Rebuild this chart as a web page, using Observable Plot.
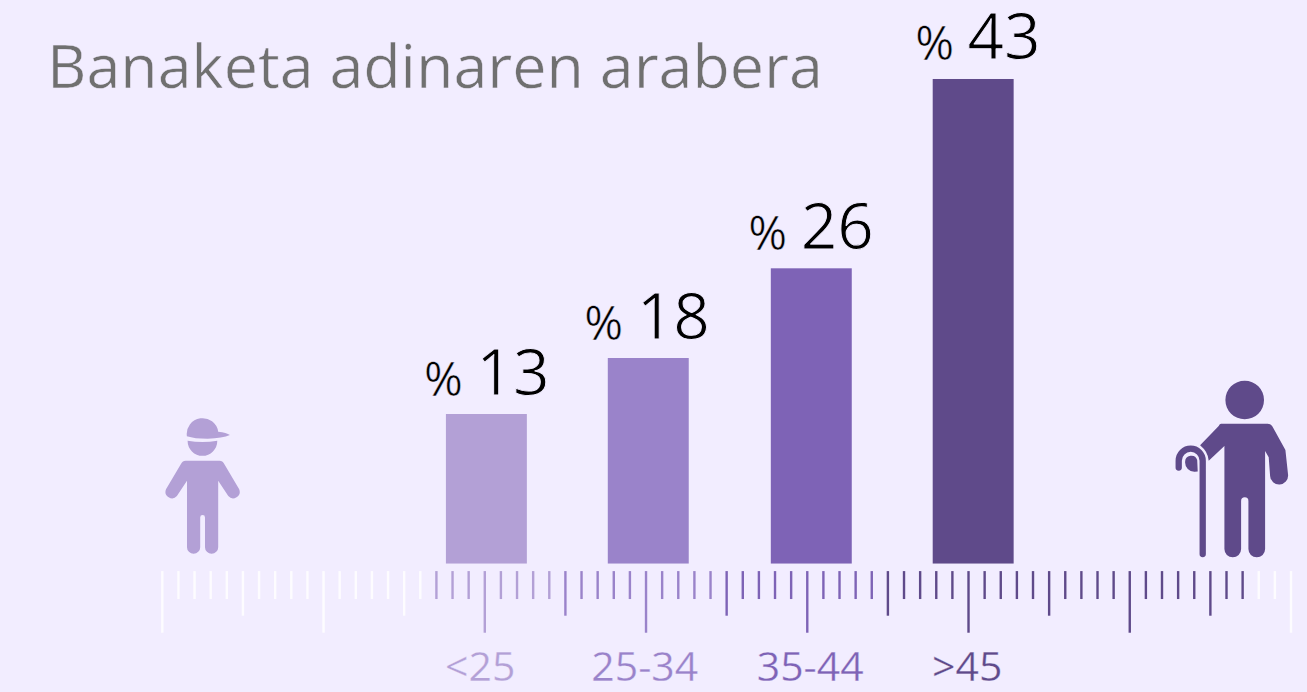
<!DOCTYPE html>
<html><head><meta charset="utf-8">
<script src="https://cdn.jsdelivr.net/npm/d3@7"></script>
<script src="https://cdn.jsdelivr.net/npm/@observablehq/plot@0.6"></script>
<style>
html,body{margin:0;padding:0;background:#f2edff;overflow:hidden}
svg{display:block}
</style></head><body><div id="chart"></div>
<script>
const chartTitle = "Banaketa adinaren arabera";
const categories = ["<25","25-34","35-44",">45"];
const shares = [13,18,26,43];
const barValues = [13.27,18.24,26.2,43];
const barCentres = [20.13,30.17,40.28,50.32];
const valueCentres = [20.11,30.05,40.22,50.57];
const categoryCentres = [19.72,29.92,40.18,49.92];
const colours = ["#b3a0d6","#9a83ca","#7e63b6","#5f4a8a"];
const tickValues = d3.range(0,71);
const tickPaleColour = "#fdfcff";
const colourStarts = [17,25,35,45];
const colourEnd = 67;
const paper = "#f2edff";

const rows = categories.map((category,i)=>({category,share:shares[i],bar:barValues[i],centre:barCentres[i],vc:valueCentres[i],cc:categoryCentres[i],colour:colours[i]}));
const tickColour = t => {
  if (t < colourStarts[0] || t > colourEnd) return tickPaleColour;
  let c = colours[0];
  colourStarts.forEach((s,i)=>{ if (t>=s) c = colours[i]; });
  return c;
};
const tickEnd = t => t%10===0 ? -6.14 : t%5===0 ? -4.63 : -3.15;

const font = "'Open Sans', sans-serif";
const childPath = "M-17,-93L17,-93Q20,-93 21.5,-90L36.6,-64.4A6.5 6.5 0 0 1 25.7,-57.7L15.6,-73L15.6,-6.6A6.6 6.6 0 0 1 2.4,-6.6L2.4,-36.3A2.4 2.4 0 0 0 -2.4,-36.3L-2.4,-6.6A6.6 6.6 0 0 1 -15.6,-6.6L-15.6,-73L-25.7,-57.7A6.5 6.5 0 0 1 -36.6,-64.4L-21.5,-90Q-20,-93 -17,-93Z"
 +"M-15.7,-117.5A15.7 15.7 0 0 1 15.6,-122Q24,-121 27.3,-118.7Q20,-115.5 5,-115Q-8,-115 -15.7,-117.5Z"
 +"M-15,-113Q0,-110.5 14.7,-113A14.8 15 0 0 1 -15,-113Z";
const elderPath = "M-23.6,-133.3L23,-133.3Q27,-133.3 28.7,-128.7L40.7,-107L43.4,-82A8.6 8.6 0 0 1 25.4,-81L24,-99.7L20.4,-106L20.4,-8A8.2 8.2 0 0 1 3.7,-8L3.7,-56A3.6 3.6 0 0 0 -3.6,-56L-3.6,-8A8.3 8.3 0 0 1 -20.3,-8L-20.3,-111L-36,-96.3Q-36.5,-105 -44.6,-111.7L-26,-131Q-25,-133.3 -23.6,-133.3Z"
 +"M-47.5,-97A6.2 6.2 0 0 0 -59.6,-95A9.2 9.2 0 0 0 -50,-85.3L-47,-85.5Z"
 +"M19.3,-157A19.3 19.3 0 1 1 -19.3,-157A19.3 19.3 0 1 1 19.3,-157Z";
const canePath = "M-42,-3L-42,-96.3A12 12 0 0 0 -66,-96.3L-66,-89.5";
const icons = [
  {tick:2.53, base:0.87, d:childPath, colour:colours[0]},
  {tick:67.16, base:0.58, d:elderPath, colour:colours[3], cane:canePath}
];
const iconMark = (index,{x,y}) => {
  const g = d3.create("svg:g");
  icons.forEach(o=>{
    const t = g.append("g").attr("transform",`translate(${x(o.tick)},${y(o.base)})`);
    t.append("path").attr("d",o.d).attr("fill",o.colour);
    if (o.cane) t.append("path").attr("d",o.cane).attr("fill","none").attr("stroke",o.colour).attr("stroke-width",6.3).attr("stroke-linecap","round");
  });
  return g.node();
};
const thin = w => ({stroke:paper, strokeWidth:w, paintOrder:"normal"});

const plot = Plot.plot({
  width:1307, height:692, margin:0,
  style:{background:paper, fontFamily:font, overflow:"visible"},
  x:{domain:[0,70], range:[161.8,1290.5], axis:null},
  y:{domain:[-11.4,50.01], range:[692,0], axis:null},
  marks:[
    Plot.rectY(rows,{x1:d=>d.centre-2.51,x2:d=>d.centre+2.51,y1:0,y2:"bar",fill:"colour"}),
    Plot.ruleX(tickValues,{x:d=>d,y1:-0.67,y2:tickEnd,stroke:tickColour,strokeWidth:2.4}),
    Plot.text(rows,{x:"vc",y:"bar",text:d=>String(d.share),fill:"#000",fontSize:64,textAnchor:"end",dx:63,dy:-20,lineAnchor:"bottom",...thin(0.9)}),
    Plot.text(rows,{x:"vc",y:"bar",text:()=>"%",fill:"#000",fontSize:47,textAnchor:"start",dx:-62.5,dy:-19,lineAnchor:"bottom",...thin(0.5)}),
    Plot.text(rows,{x:"cc",y:-10.4,text:"category",fill:"colour",fontSize:41,textAnchor:"middle",lineAnchor:"bottom",...thin(0.3)}),
    Plot.text([chartTitle],{x:-7.15,y:42.25,text:d=>d,fill:"#707070",fontSize:61,textAnchor:"start",lineAnchor:"bottom",...thin(0.5)}),
    iconMark
  ]
});
document.getElementById("chart").append(plot);
</script></body></html>
